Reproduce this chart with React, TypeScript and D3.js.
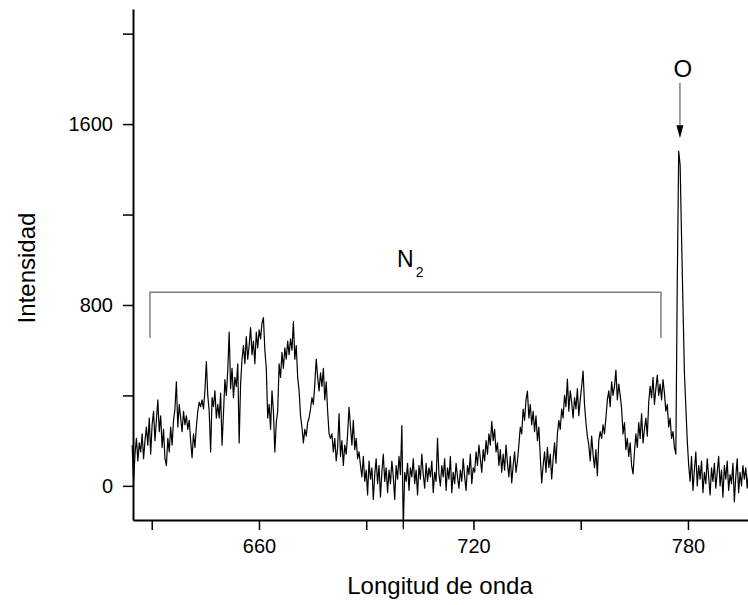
import React, { useEffect, useRef } from 'react';
import * as d3 from 'd3';

// spectrum sampled on a uniform grid (nm)
const WAVE_START = 624.52;
const WAVE_STEP = 0.3992;
const intensity = [
  180, 20, 140, 210, 110, 190, 150, 230, 120, 200,
  260, 180, 300, 140, 270, 330, 200, 290, 380, 240,
  310, 170, 250, 120, 90, 210, 150, 260, 180, 290,
  340, 460, 260, 360, 300, 240, 330, 270, 310, 250,
  290, 200, 125, 230, 170, 260, 330, 370, 350, 380,
  340, 420, 550, 400, 330, 150, 390, 350, 420, 300,
  360, 300, 410, 180, 320, 470, 400, 510, 680, 430,
  520, 390, 480, 440, 540, 190, 450, 560, 620, 540,
  660, 560, 620, 700, 580, 640, 540, 680, 610, 690,
  650, 720, 744, 600, 520, 300, 360, 250, 420, 330,
  150, 280, 330, 540, 480, 590, 520, 610, 560, 640,
  580, 650, 600, 726, 560, 620, 480, 420, 310, 260,
  190, 250, 220, 280, 300, 340, 390, 360, 450, 561,
  480, 420, 500, 440, 520, 380, 460, 330, 230, 210,
  230, 150, 210, 110, 170, 320, 130, 200, 90, 180,
  140, 230, 347, 260, 180, 290, 160, 210, 120, 150,
  90, 40, 130, 20, 70, -40, 110, 30, 80, -60,
  50, 120, 10, 90, -50, 60, 140, 20, 80, -30,
  70, 10, 110, 40, -60, 90, 30, 130, 50, 267,
  -190, 60, 20, 100, -20, 80, 40, 120, 10, 70,
  -40, 90, 30, 140, 50, -10, 100, 20, 80, 40,
  110, -30, 60, 20, 210, 50, 0, 90, 40, 120,
  -20, 80, 30, 130, -30, 60, 10, 100, 40, -10,
  70, 20, 120, 40, -20, 90, 50, 140, 10, 80,
  60, 150, 90, 180, 120, 60, 160, 110, 200, 140,
  230, 180, 285, 200, 250, 150, 190, 90, 160, 60,
  140, 70, 180, 100, 40, 130, 13, 90, 150, 60,
  110, 180, 260, 230, 340, 290, 380, 419, 300, 360,
  270, 330, 240, 310, 200, 260, 130, 13, 90, 150,
  60, 170, 80, 140, 30, 120, 190, 100, 230, 290,
  250, 340, 300, 400, 350, 472, 330, 420, 370, 300,
  390, 340, 430, 310, 380, 440, 508, 360, 280, 220,
  180, 110, 220, 140, 80, 160, 45, 200, 240, 210,
  270, 230, 300, 380, 420, 350, 460, 400, 440, 512,
  380, 450, 400, 340, 230, 280, 160, 210, 130, 190,
  90, 53, 150, 230, 170, 280, 210, 320, 190, 250,
  300, 220, 370, 440, 390, 480, 360, 430, 490, 400,
  450, 380, 470, 410, 330, 360, 260, 300, 210, 240,
  170, 140, 900, 1480, 1420, 1100, 800, 500, 350, 200,
  90, 20, 130, -20, 70, 150, 0, 90, 30, 110,
  -30, 60, 10, 120, 40, -40, 80, 20, 100, -10,
  60, 130, 0, 70, -50, 90, 30, 110, -20, 50,
  10, 100, -70, 40, 120, -30, 60, 0, 90, 30,
  80, -10, 60, 20, 110, -20, 50, 10,
];

const xTicks = [630, 660, 690, 720, 750, 780];
const xTickLabels = [660, 720, 780];
const yTicks = [0, 400, 800, 1200, 1600, 2000];
const yTickLabels = [0, 800, 1600];

// annotations in data units
const bracketN2 = { x0: 629.5, x1: 772.45, yTop: 856, yEnd: 654 };
const arrowO = { x: 777.76, yTop: 1783, yTip: 1537 };

const FONT = '"Liberation Sans", Arial, sans-serif';

const App = () => {
  const svgRef = useRef<SVGSVGElement | null>(null);

  useEffect(() => {
    if (!svgRef.current) return;
    const width = 748;
    const height = 605;
    const left = 133;
    const top = 9;
    const bottom = 520;

    const svg = d3.select(svgRef.current);
    svg.selectAll('*').remove();
    svg.attr('width', width).attr('height', height);

    const x = d3.scaleLinear().domain([624.76, 796.8]).range([left, width]);
    const y = d3.scaleLinear().domain([-151, 2109]).range([bottom, top]);

    const data = intensity.map((v, i) => ({ w: WAVE_START + i * WAVE_STEP, v }));

    // spectrum
    const line = d3.line<{ w: number; v: number }>()
      .x(d => x(d.w))
      .y(d => y(d.v));
    svg.append('path')
      .datum(data)
      .attr('d', line)
      .attr('fill', 'none')
      .attr('stroke', '#000')
      .attr('stroke-width', 1.2)
      .attr('stroke-linejoin', 'round');

    // axes
    const xAxis = d3.axisBottom(x)
      .tickValues(xTicks)
      .tickSize(10)
      .tickSizeOuter(0)
      .tickPadding(9)
      .tickFormat(d => (xTickLabels.includes(+d) ? String(d) : ''));
    const gx = svg.append('g').attr('transform', `translate(0,${bottom})`).call(xAxis);

    const yAxis = d3.axisLeft(y)
      .tickValues(yTicks)
      .tickSize(10)
      .tickSizeOuter(0)
      .tickPadding(10)
      .tickFormat(d => (yTickLabels.includes(+d) ? String(d) : ''));
    const gy = svg.append('g').attr('transform', `translate(${left},0)`).call(yAxis);

    [gx, gy].forEach(g => {
      g.select('.domain').attr('stroke-width', 2).attr('stroke', '#000');
      g.selectAll('.tick line').attr('stroke-width', 1.5).attr('stroke', '#000');
      g.selectAll('.tick text')
        .attr('font-family', FONT)
        .attr('font-size', 20)
        .attr('fill', '#000');
    });

    // axis titles
    svg.append('text')
      .attr('x', 440)
      .attr('y', 594)
      .attr('text-anchor', 'middle')
      .attr('font-family', FONT)
      .attr('font-size', 24)
      .text('Longitud de onda');

    svg.append('text')
      .attr('transform', `translate(35,268) rotate(-90)`)
      .attr('text-anchor', 'middle')
      .attr('font-family', FONT)
      .attr('font-size', 24)
      .text('Intensidad');

    // N2 bracket
    const b = bracketN2;
    svg.append('path')
      .attr('d', `M${x(b.x0)},${y(b.yEnd)}V${y(b.yTop)}H${x(b.x1)}V${y(b.yEnd)}`)
      .attr('fill', 'none')
      .attr('stroke', '#808080')
      .attr('stroke-width', 1.5);

    const n2 = svg.append('text')
      .attr('x', 397)
      .attr('y', 267)
      .attr('font-family', FONT)
      .attr('font-size', 23);
    n2.append('tspan').text('N');
    n2.append('tspan').attr('font-size', 14).attr('dx', 2).attr('dy', 10).text('2');

    // O arrow
    const a = arrowO;
    svg.append('line')
      .attr('x1', x(a.x)).attr('x2', x(a.x))
      .attr('y1', y(a.yTop)).attr('y2', y(a.yTip) - 12)
      .attr('stroke', '#808080')
      .attr('stroke-width', 1.5);
    svg.append('path')
      .attr('d', `M${x(a.x) - 3.5},${y(a.yTip) - 13}L${x(a.x) + 3.5},${y(a.yTip) - 13}L${x(a.x)},${y(a.yTip)}Z`)
      .attr('fill', '#000');
    svg.append('text')
      .attr('x', x(a.x) + 3)
      .attr('y', 77)
      .attr('text-anchor', 'middle')
      .attr('font-family', FONT)
      .attr('font-size', 24)
      .text('O');
  }, []);

  return (
    <svg
      ref={svgRef}
      style={{ position: 'absolute', left: 0, top: 0, display: 'block', background: '#fff' }}
    />
  );
};

export default App;
